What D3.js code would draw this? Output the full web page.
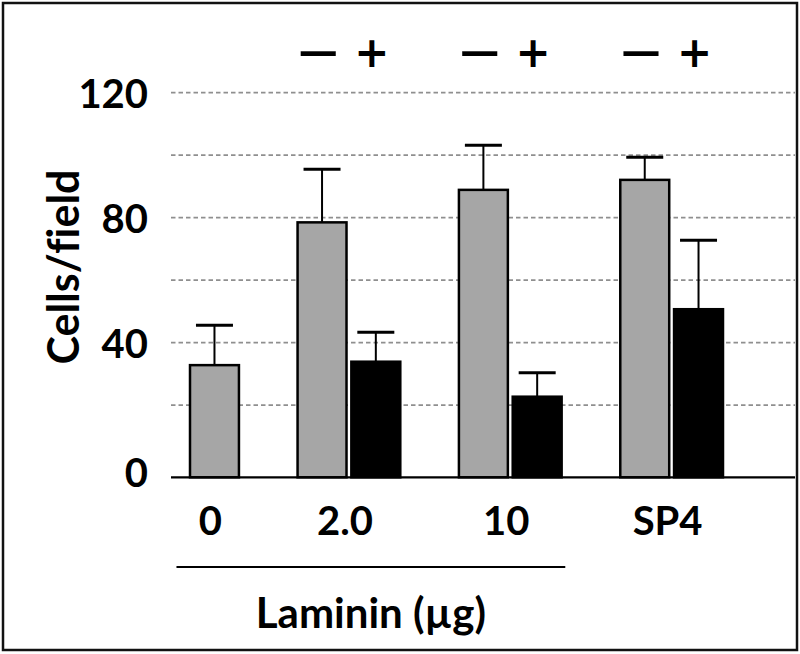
<!DOCTYPE html>
<html>
<head>
<meta charset="utf-8">
<script src="https://cdn.jsdelivr.net/npm/d3@7/dist/d3.min.js"></script>
<style>
  html, body { margin: 0; padding: 0; background: #fff; }
  svg { display: block; }
  text { font-family: Lato, "Open Sans", sans-serif; font-weight: 700; fill: #000; font-variant-ligatures: none; }
  text.sign { font-family: "DejaVu Sans", sans-serif; font-weight: 700; }
</style>
</head>
<body>
<svg id="chart" width="800" height="654"></svg>
<script>
// ---- data ----
const groups = ["0", "2.0", "10", "SP4"];
const series = ["−", "+"];
const grayMeans = [32.8, 78.5, 88.9, 92.1];
const grayErrors = [12.8, 17.0, 14.3, 7.2];
const blackMeans = [null, 33.9, 22.7, 50.7];
const blackErrors = [null, 9.4, 7.7, 22.1];
const yTickLabels = [0, 40, 80, 120];
const gridValues = [20, 40, 60, 80, 100, 120];
const yTitle = "Cells/field";
const groupTitle = "Laminin (µg)";

// ---- layout ----
const W = 800, H = 654;
const svg = d3.select("#chart");
svg.append("rect").attr("x", 0).attr("y", 0).attr("width", W).attr("height", H).attr("fill", "#fff");
svg.append("rect").attr("x", 3).attr("y", 3).attr("width", W - 6).attr("height", H - 7)
  .attr("fill", "none").attr("stroke", "#111").attr("stroke-width", 2.5);

const plotLeft = 171, plotRight = 795;
const yMin = -3.1, yMax = 120;
const y = d3.scaleLinear().domain([yMin, yMax]).range([477.3, 92.7]);

// bars table
const bars = [];
groups.forEach((g, i) => {
  if (grayMeans[i] != null) bars.push({group: g, s: series[0], v: grayMeans[i], e: grayErrors[i], fill: "#a6a6a6"});
  if (blackMeans[i] != null) bars.push({group: g, s: series[1], v: blackMeans[i], e: blackErrors[i], fill: "#000"});
});
// slots, with a spacer between groups
const slots = [];
groups.forEach((g, i) => {
  if (i > 0) slots.push("gap" + i);
  bars.filter(b => b.group === g).forEach(b => slots.push(b.group + "|" + b.s));
});
const x = d3.scaleBand().domain(slots).range([190, 723]).paddingInner(0.09).paddingOuter(0);
const bw = x.bandwidth();
const key = b => b.group + "|" + b.s;

// gridlines
svg.append("g").selectAll("line").data(gridValues).join("line")
  .attr("x1", plotLeft).attr("x2", plotRight)
  .attr("y1", d => y(d)).attr("y2", d => y(d))
  .attr("stroke", "#8f8f8f").attr("stroke-width", 1.7).attr("stroke-dasharray", "4.5,3");

// y tick labels
svg.append("g").selectAll("text").data(yTickLabels).join("text")
  .attr("x", 148).attr("y", d => y(d) + (d === 0 ? 4 : 0))
  .attr("text-anchor", "end").attr("dominant-baseline", "central")
  .attr("font-size", 40).text(d => d);

// y title
svg.append("text")
  .attr("transform", `translate(62,${267}) rotate(-90)`)
  .attr("text-anchor", "middle").attr("dominant-baseline", "central")
  .attr("font-size", 43).text(yTitle);

// error bars
const eg = svg.append("g");
bars.forEach(b => {
  const cx = x(key(b)) + bw / 2;
  eg.append("line").attr("x1", cx).attr("x2", cx).attr("y1", y(b.v)).attr("y2", y(b.v + b.e))
    .attr("stroke", "#000").attr("stroke-width", 2);
  eg.append("line").attr("x1", cx - 18.5).attr("x2", cx + 18.5).attr("y1", y(b.v + b.e)).attr("y2", y(b.v + b.e))
    .attr("stroke", "#000").attr("stroke-width", 3);
});

// bars
svg.append("g").selectAll("rect").data(bars).join("rect")
  .attr("x", b => x(key(b))).attr("width", bw)
  .attr("y", b => y(b.v)).attr("height", b => y(yMin) - y(b.v))
  .attr("fill", b => b.fill).attr("stroke", "#000").attr("stroke-width", 2.5);

// baseline
svg.append("line").attr("x1", plotLeft).attr("x2", plotRight)
  .attr("y1", y(yMin)).attr("y2", y(yMin)).attr("stroke", "#000").attr("stroke-width", 2.2);

// -/+ signs above bars
const signs = svg.append("g").selectAll("text").data(bars.filter(b => b.group !== groups[0])).join("text")
  .attr("class", "sign")
  .attr("x", b => x(key(b)) + bw / 2 - 4).attr("y", 52)
  .attr("text-anchor", "middle").attr("dominant-baseline", "central")
  .attr("font-size", 42)
  .text(b => b.s);
signs.filter(b => b.s === series[0])
  .attr("textLength", 47).attr("lengthAdjust", "spacingAndGlyphs");

// category labels
const groupCenter = g => d3.mean(bars.filter(b => b.group === g), b => x(key(b)) + bw / 2);
svg.append("g").selectAll("text").data(groups).join("text")
  .attr("x", g => groupCenter(g) - 4).attr("y", 520)
  .attr("text-anchor", "middle").attr("dominant-baseline", "central")
  .attr("font-size", 40).text(g => g);

// Laminin bracket line spans first three groups
const lamLeft = groupCenter(groups[0]) - 38, lamRight = groupCenter(groups[2]) + 55;
svg.append("line").attr("x1", lamLeft).attr("x2", lamRight).attr("y1", 567).attr("y2", 567)
  .attr("stroke", "#000").attr("stroke-width", 2);
svg.append("text").attr("x", (lamLeft + lamRight) / 2).attr("y", 612)
  .attr("text-anchor", "middle").attr("dominant-baseline", "central")
  .attr("font-size", 42).text(groupTitle);
</script>
</body>
</html>
